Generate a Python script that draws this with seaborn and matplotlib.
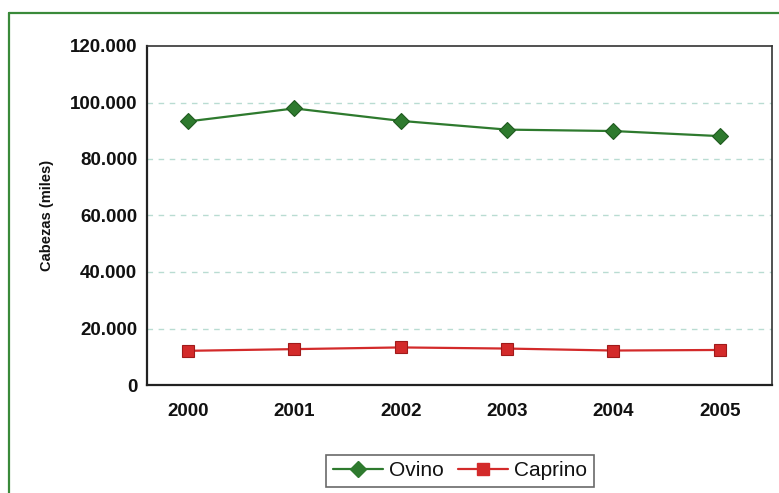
import matplotlib
matplotlib.use("Agg")
import matplotlib.pyplot as plt
import seaborn as sns
import pandas as pd
from matplotlib.lines import Line2D
from matplotlib.ticker import FuncFormatter

years = ["2000", "2001", "2002", "2003", "2004", "2005"]
ovino = [93300, 97900, 93500, 90400, 89900, 88100]
caprino = [12100, 12700, 13300, 12900, 12200, 12400]
series_names = ["Ovino", "Caprino"]
yticks = [0, 20000, 40000, 60000, 80000, 100000, 120000]

sns.set_style("white")
plt.rcParams['font.family'] = ['Liberation Sans', 'DejaVu Sans']

df = pd.DataFrame({
    "idx": list(range(len(years))) * 2,
    "valor": ovino + caprino,
    "serie": [series_names[0]] * len(years) + [series_names[1]] * len(years),
})

W, H = 779, 493
fig = plt.figure(figsize=(W / 100, H / 100), dpi=100)
ax = fig.add_axes([147 / W, 1 - 385 / H, (772 - 147) / W, (385 - 46) / H])

palette = {"Ovino": "#2e7a2e", "Caprino": "#d32a2a"}
markers = {"Ovino": "D", "Caprino": "s"}
sns.lineplot(data=df, x="idx", y="valor", hue="serie", style="serie",
             palette=palette, markers=markers, dashes=False, linewidth=1.6,
             markersize=8.5, markeredgewidth=0.8, ax=ax, legend=False)
for line, name in zip(ax.lines, series_names):
    line.set_markeredgecolor("#1f5a1f" if name == "Ovino" else "#a01a1a")

ax.set_xlim(-0.385, 5.49)
ax.set_ylim(0, 120000)
ax.set_xticks(range(len(years)))
ax.set_xticklabels(years)
ax.set_yticks(yticks)
ax.yaxis.set_major_formatter(FuncFormatter(lambda v, p: "0" if v == 0 else f"{int(v):,}".replace(",", ".")))
ax.tick_params(axis="both", labelsize=13.5, length=0, pad=7, labelcolor="#111111")
for lab in ax.get_xticklabels() + ax.get_yticklabels():
    lab.set_fontweight("bold")
ax.tick_params(axis="x", pad=13)

for v in yticks[1:-1]:
    ax.axhline(v, color="#b9dcd2", lw=1.0, ls=(0, (4, 4)), zorder=0)

for s in ["left", "bottom"]:
    ax.spines[s].set_color("#222222")
    ax.spines[s].set_linewidth(1.6)
for s in ["top", "right"]:
    ax.spines[s].set_color("#333333")
    ax.spines[s].set_linewidth(1.2)
    ax.spines[s].set_visible(True)

ax.set_xlabel("")
ax.set_ylabel("Cabezas (miles)", fontsize=10.5, fontweight="bold", color="#111111")
ax.yaxis.set_label_coords(-0.148, 0.5)

handles = [Line2D([], [], color=palette[n], marker=markers[n], markersize=8,
                  markeredgecolor=palette[n], lw=1.6) for n in series_names]
leg = fig.legend(handles, series_names, loc="center", bbox_to_anchor=(460 / W, 1 - 471 / H),
                 ncol=2, frameon=True, fancybox=False, fontsize=15, handlelength=2.4,
                 columnspacing=0.7, handletextpad=0.3, borderpad=0.3)
leg.get_frame().set_edgecolor("#444444")
leg.get_frame().set_linewidth(1.2)
for t in leg.get_texts():
    t.set_color("#111111")

# outer green frame
fig.add_artist(Line2D([9 / W, 9 / W], [0, 1 - 13 / H], transform=fig.transFigure, color="#3a8a3a", lw=1.6))
fig.add_artist(Line2D([9 / W, 1], [1 - 13 / H, 1 - 13 / H], transform=fig.transFigure, color="#3a8a3a", lw=1.6))

fig.savefig("out.png", dpi=100)
